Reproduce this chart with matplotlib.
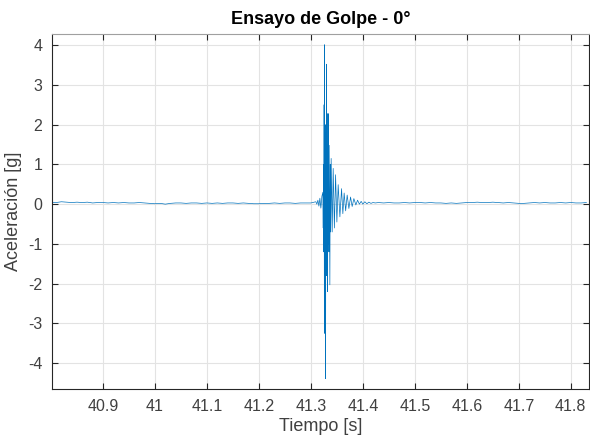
import numpy as np
import matplotlib.pyplot as plt

plt.rcParams['font.family'] = ['Liberation Sans', 'DejaVu Sans']
plt.rcParams['axes.unicode_minus'] = False

# base line before the hit (t from 40.80 to 41.30, step 0.01 s)
pre_t = np.round(np.arange(40.80, 41.305, 0.01), 3)
pre_v = [0.05, 0.04, 0.06, 0.05, 0.04, 0.05, 0.04, 0.05, 0.03, 0.04,
         0.04, 0.03, 0.04, 0.03, 0.04, 0.03, 0.03, 0.04, 0.03, 0.02,
         0.01, 0.02, 0.00, 0.02, 0.03, 0.03, 0.02, 0.03, 0.03, 0.02,
         0.03, 0.02, 0.03, 0.02, 0.03, 0.03, 0.02, 0.03, 0.02, 0.01,
         0.01, 0.02, 0.02, 0.03, 0.02, 0.03, 0.03, 0.02, 0.03, 0.03,
         0.03]

# hit: time offset from 41.3 s in ms, value in g
hit_ms = [9.6, 11.5, 13.5, 15.4, 17.3, 19.2, 21.2, 23.1, 23.7, 24.2,
          24.8, 25.4, 26.0, 26.3, 26.9, 27.5, 28.3, 28.8, 29.6, 30.2,
          30.8, 31.3, 31.9, 32.7, 33.3, 34.0, 34.6, 35.2, 36.0, 36.5,
          37.3, 38.1, 39.0, 41.0, 42.9, 45.2, 47.5, 50.0, 52.5, 55.8,
          59.0, 61.5, 64.0, 66.9, 69.8, 73.1, 76.3, 79.4, 82.7, 86.5,
          89.8, 93.3, 96.7, 100.0, 103.8, 107.7, 111.5, 115.5, 119.5, 124.0]
hit_v = [0.06, 0.0, 0.10, -0.05, 0.15, -0.10, 0.20, 0.30, -0.60, 1.00,
         -1.20, 2.50, -3.25, 4.01, -2.50, 1.80, -4.39, 2.00, -1.80, 3.52,
         -1.53, 1.50, -2.20, 2.28, -1.00, 2.27, -1.20, 1.48, -0.80, -2.03,
         1.00, -0.70, 1.15, -0.70, 0.90, -0.60, 0.74, -0.45, 0.49, -0.32,
         0.39, -0.24, 0.28, -0.17, 0.23, -0.11, 0.18, -0.06, 0.14, -0.02,
         0.10, 0.00, 0.07, 0.00, 0.06, 0.01, 0.05, 0.02, 0.04, 0.03]

# base line after the hit (t from 41.43 to 41.83 s)
post_t = np.round(np.arange(41.43, 41.835, 0.01), 3)
post_v = [0.04, 0.03, 0.04, 0.03, 0.03, 0.04, 0.03, 0.04, 0.04,
          0.03, 0.04, 0.03, 0.03, 0.02, 0.03, 0.02, 0.03, 0.04, 0.04,
          0.05, 0.04, 0.04, 0.05, 0.04, 0.03, 0.04, 0.03, 0.02, 0.02,
          0.03, 0.04, 0.03, 0.04, 0.03, 0.03, 0.04, 0.03, 0.04, 0.03,
          0.03, 0.04]

t = np.concatenate([pre_t, 41.3 + np.array(hit_ms) / 1000, post_t])
a = np.concatenate([pre_v, hit_v, post_v])

fig = plt.figure(figsize=(5.9, 4.41), dpi=100)
ax = fig.add_axes([52 / 590, 52 / 441, 537 / 590, 355 / 441])
ax.plot(t, a, color='#0072BD', lw=0.5)

ax.set_xlim(40.802, 41.835)
ax.set_ylim(-4.65, 4.28)
ax.set_xticks(np.round(np.arange(40.9, 41.85, 0.1), 1))
ax.set_xticklabels(['40.9', '41', '41.1', '41.2', '41.3', '41.4', '41.5',
                    '41.6', '41.7', '41.8'])
ax.set_yticks(range(-4, 5))
ax.grid(True, color='#e3e3e3', lw=0.8)
ax.set_axisbelow(True)
ax.tick_params(direction='in', length=4, width=0.8, color='#262626',
               labelcolor='#404040', labelsize=11.5, top=True, right=True,
               pad=7)
for s in ax.spines.values():
    s.set_color('#262626')
    s.set_linewidth(0.8)
ax.spines['top'].set_color('#a0a0a0')

ax.set_title('Ensayo de Golpe - 0°', fontsize=13, fontweight='bold', pad=7)
ax.set_xlabel('Tiempo [s]', fontsize=13, color='#404040', labelpad=3)
ax.set_ylabel('Aceleración [g]', fontsize=13, color='#404040', labelpad=4)

fig.savefig('out.png', dpi=100)
